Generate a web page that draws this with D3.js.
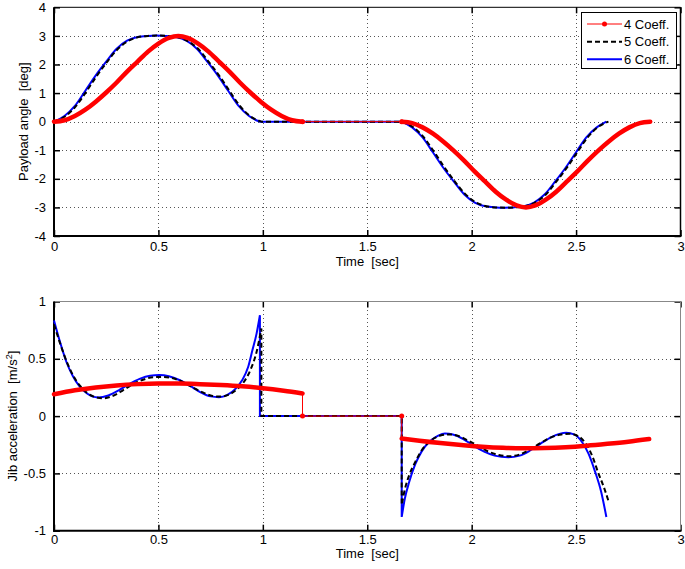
<!DOCTYPE html>
<html><head><meta charset="utf-8">
<script src="https://cdn.jsdelivr.net/npm/d3@7"></script>
<style>
body{margin:0;background:#fff}
text{font-family:"Liberation Sans",Arial,Helvetica,sans-serif;fill:#000}
.pre{white-space:pre}
</style>
</head><body>
<svg id="c" width="685" height="569"></svg>
<script>
// ---------- data ----------
const xTicks = [0, 0.5, 1, 1.5, 2, 2.5, 3];
const xTickLabels = ["0", "0.5", "1", "1.5", "2", "2.5", "3"];
const angleTicks = [-4, -3, -2, -1, 0, 1, 2, 3, 4];
const angleTickLabels = ["-4", "-3", "-2", "-1", "0", "1", "2", "3", "4"];
const accelTicks = [-1, -0.5, 0, 0.5, 1];
const accelTickLabels = ["-1", "-0.5", "0", "0.5", "1"];
const seriesNames = ["4 Coeff.", "5 Coeff.", "6 Coeff."];

// Payload angle [deg] vs time [sec]
const angle4a = [[0,0],[0.05,0.05],[0.1,0.2],[0.15,0.42],[0.2,0.7],[0.25,1.02],[0.3,1.37],[0.35,1.75],[0.4,2.1],[0.45,2.45],[0.5,2.73],[0.55,2.93],[0.595,3.0],[0.64,2.93],[0.69,2.73],[0.74,2.45],[0.79,2.1],[0.84,1.75],[0.89,1.37],[0.94,1.02],[0.99,0.7],[1.04,0.42],[1.09,0.2],[1.14,0.05],[1.19,0]];
const angle4flat = [[1.19,0],[1.665,0]];
const angle4b = [[1.665,0],[1.715,-0.05],[1.765,-0.2],[1.815,-0.42],[1.865,-0.7],[1.915,-1.02],[1.965,-1.37],[2.015,-1.75],[2.065,-2.1],[2.115,-2.45],[2.165,-2.73],[2.215,-2.93],[2.26,-3.0],[2.305,-2.93],[2.355,-2.73],[2.405,-2.45],[2.455,-2.1],[2.505,-1.75],[2.555,-1.37],[2.605,-1.02],[2.655,-0.7],[2.705,-0.42],[2.755,-0.2],[2.805,-0.05],[2.855,0]];

const angle5a = [[0,0],[0.05,0.17],[0.1,0.5],[0.15,1.0],[0.2,1.55],[0.25,2.05],[0.3,2.5],[0.35,2.8],[0.4,2.95],[0.45,3.0],[0.496,3.01],[0.54,3.0],[0.59,2.96],[0.64,2.82],[0.69,2.55],[0.74,2.1],[0.79,1.62],[0.84,1.08],[0.89,0.55],[0.94,0.19],[0.993,0]];
const angle5b = [[1.665,0],[1.715,-0.17],[1.765,-0.5],[1.815,-1.0],[1.865,-1.55],[1.915,-2.05],[1.965,-2.5],[2.015,-2.8],[2.065,-2.95],[2.115,-3.0],[2.161,-3.01],[2.205,-3.0],[2.255,-2.96],[2.305,-2.82],[2.355,-2.55],[2.405,-2.1],[2.455,-1.62],[2.505,-1.08],[2.555,-0.55],[2.605,-0.19],[2.655,0]];

const angle6a = [[0,0],[0.05,0.2],[0.1,0.55],[0.15,1.08],[0.2,1.62],[0.25,2.1],[0.3,2.55],[0.35,2.83],[0.4,2.96],[0.45,3.0],[0.492,3.01],[0.534,3.0],[0.584,2.96],[0.634,2.83],[0.684,2.55],[0.734,2.1],[0.784,1.62],[0.834,1.08],[0.884,0.55],[0.934,0.2],[0.984,0]];
const angle6b = [[1.665,0],[1.715,-0.2],[1.765,-0.55],[1.815,-1.08],[1.865,-1.62],[1.915,-2.1],[1.965,-2.55],[2.015,-2.83],[2.065,-2.96],[2.115,-3.0],[2.157,-3.01],[2.199,-3.0],[2.249,-2.96],[2.299,-2.83],[2.349,-2.55],[2.399,-2.1],[2.449,-1.62],[2.499,-1.08],[2.549,-0.55],[2.599,-0.2],[2.645,0]];

// Jib acceleration [m/s^2] vs time [sec]
const accel4a = [[0,0.19],[0.1,0.225],[0.2,0.25],[0.3,0.268],[0.4,0.279],[0.5,0.284],[0.6,0.284],[0.7,0.279],[0.8,0.271],[0.9,0.26],[1.0,0.244],[1.1,0.222],[1.19,0.198]];
const accel4flat = [[1.19,0],[1.665,0]];
const accel4b = [[1.665,-0.195],[1.75,-0.215],[1.85,-0.235],[1.95,-0.252],[2.05,-0.267],[2.15,-0.277],[2.25,-0.281],[2.35,-0.279],[2.45,-0.272],[2.55,-0.259],[2.65,-0.242],[2.75,-0.223],[2.85,-0.2]];

const accel5a = [[0,0.8],[0.03,0.63],[0.06,0.48],[0.09,0.36],[0.124,0.265],[0.16,0.2],[0.2,0.165],[0.235,0.155],[0.28,0.175],[0.33,0.225],[0.38,0.28],[0.43,0.32],[0.48,0.34],[0.52,0.342],[0.57,0.33],[0.62,0.295],[0.67,0.245],[0.72,0.2],[0.76,0.175],[0.8,0.17],[0.84,0.19],[0.88,0.24],[0.91,0.3],[0.94,0.4],[0.97,0.56],[0.993,0.765]];
const accel5flat = [[0.993,0],[1.665,0]];
const accel5b = [[1.665,-0.775],[1.68,-0.64],[1.7,-0.52],[1.73,-0.4],[1.76,-0.3],[1.8,-0.22],[1.85,-0.17],[1.89,-0.16],[1.93,-0.17],[1.98,-0.21],[2.03,-0.26],[2.08,-0.31],[2.13,-0.34],[2.18,-0.35],[2.23,-0.335],[2.28,-0.29],[2.33,-0.235],[2.38,-0.185],[2.43,-0.16],[2.47,-0.155],[2.51,-0.175],[2.55,-0.25],[2.58,-0.36],[2.605,-0.49],[2.635,-0.63],[2.656,-0.747]];

const accel6a = [[0,0.835],[0.03,0.64],[0.06,0.47],[0.09,0.35],[0.124,0.255],[0.16,0.195],[0.21,0.163],[0.26,0.18],[0.31,0.225],[0.36,0.28],[0.41,0.325],[0.46,0.352],[0.505,0.358],[0.55,0.348],[0.6,0.315],[0.65,0.265],[0.7,0.21],[0.75,0.172],[0.79,0.165],[0.83,0.185],[0.87,0.24],[0.9,0.31],[0.93,0.43],[0.95,0.575],[0.97,0.72],[0.986,0.88]];
const accel6flat = [[0.986,0],[1.665,0]];
const accel6b = [[1.665,-0.88],[1.68,-0.72],[1.7,-0.58],[1.73,-0.42],[1.76,-0.31],[1.8,-0.22],[1.84,-0.17],[1.872,-0.151],[1.91,-0.16],[1.96,-0.2],[2.01,-0.26],[2.06,-0.31],[2.11,-0.345],[2.175,-0.36],[2.23,-0.345],[2.28,-0.3],[2.33,-0.24],[2.38,-0.185],[2.42,-0.155],[2.453,-0.145],[2.49,-0.16],[2.53,-0.23],[2.56,-0.33],[2.59,-0.48],[2.62,-0.66],[2.645,-0.88]];

// ---------- drawing ----------
const svg = d3.select("#c");
const X0 = 54, X1 = 680.5;
const x = d3.scaleLinear().domain([0, 3]).range([X0, X1]);

const panels = [
  { y: d3.scaleLinear().domain([-4, 4]).range([236, 7.3]), ticks: angleTicks, labels: angleTickLabels,
    title: "Payload angle  [deg]", titleX: 28, frame: "#000", xTitleOff: 30, tickPad: 5.5,
    s4: [angle4a, angle4flat, angle4b], s4dense: [angle4a, angle4b], s4dots: angle4flat,
    s5: [angle5a, angle5b], s6: [angle6a, angle6b], legend: true },
  { y: d3.scaleLinear().domain([-1, 1]).range([530.7, 301.5]), ticks: accelTicks, labels: accelTickLabels,
    title: "Jib acceleration  [m/s", titleX: 17, sup: true, frame: "#888", xTitleOff: 27.5, tickPad: 4.5,
    s4: [accel4a, accel4flat, accel4b], s4dense: [accel4a, accel4b], s4dots: accel4flat,
    s5: [accel5a, accel5flat, accel5b], s6: [accel6a, accel6flat, accel6b], legend: false }
];

function piecePath(pieces, y) {
  const line = d3.line().x(d => x(d[0])).y(d => y(d[1])).curve(d3.curveMonotoneX);
  return pieces.map((p, i) => { const s = line(p); return i === 0 ? s : "L" + s.slice(1); }).join("");
}

panels.forEach(P => {
  const y = P.y;
  const [Yb, Yt] = y.range();
  const g = svg.append("g");

  // grid
  const grid = g.append("g").attr("stroke", "#555").attr("stroke-width", 1).attr("stroke-dasharray", "1,3").attr("shape-rendering", "crispEdges");
  grid.selectAll("line.v").data(xTicks.slice(1, -1)).join("line")
    .attr("x1", d => Math.round(x(d)) + 0.5).attr("x2", d => Math.round(x(d)) + 0.5).attr("y1", Yt).attr("y2", Yb);
  grid.selectAll("line.h").data(P.ticks.slice(1, -1)).join("line")
    .attr("x1", X0).attr("x2", X1).attr("y1", d => Math.round(y(d)) + 0.5).attr("y2", d => Math.round(y(d)) + 0.5);

  // axes with inward ticks
  const fmtX = (d, i) => xTickLabels[i];
  const fmtY = (d, i) => P.labels[i];
  const ax = g.append("g").attr("transform", `translate(0,${Yb})`)
    .call(d3.axisBottom(x).tickValues(xTicks).tickSize(-6).tickPadding(P.tickPad).tickFormat(fmtX));
  const ay = g.append("g").attr("transform", `translate(${X0},0)`)
    .call(d3.axisLeft(y).tickValues(P.ticks).tickSize(-6).tickPadding(8).tickFormat(fmtY));
  const at = g.append("g").attr("transform", `translate(0,${Yt})`)
    .call(d3.axisTop(x).tickValues(xTicks).tickSize(-6).tickFormat(""));
  const ar = g.append("g").attr("transform", `translate(${X1},0)`)
    .call(d3.axisRight(y).tickValues(P.ticks).tickSize(-6).tickFormat(""));
  [ax, ay, at, ar].forEach(a => {
    a.select(".domain").remove();
    a.selectAll("line").attr("stroke", "#000").attr("stroke-width", 1.5);
    a.selectAll("text").attr("font-size", 13).attr("font-family", null).attr("fill", "#000");
  });

  // frame
  g.append("line").attr("x1", X0).attr("x2", X1).attr("y1", Yt).attr("y2", Yt).attr("stroke", P.frame).attr("stroke-width", 1);
  g.append("line").attr("x1", X1).attr("x2", X1).attr("y1", Yt).attr("y2", Yb).attr("stroke", P.frame).attr("stroke-width", P.frame === "#000" ? 1.5 : 1);
  g.append("line").attr("x1", X0).attr("x2", X0).attr("y1", Yt).attr("y2", Yb + 1).attr("stroke", "#000").attr("stroke-width", 2);
  g.append("line").attr("x1", X0 - 1).attr("x2", X1 + 1).attr("y1", Yb).attr("y2", Yb).attr("stroke", "#000").attr("stroke-width", 2);

  // axis labels
  g.append("text").attr("class", "pre").attr("x", (X0 + X1) / 2).attr("y", Yb + P.xTitleOff).attr("text-anchor", "middle")
    .attr("font-size", 13).text("Time  [sec]");
  const yt = g.append("text").attr("class", "pre").attr("text-anchor", "middle").attr("font-size", 13)
    .attr("transform", `translate(${P.titleX},${(Yt + Yb) / 2}) rotate(-90)`);
  yt.append("tspan").text(P.title);
  if (P.sup) {
    yt.append("tspan").attr("font-size", 9).attr("dy", -5).text("2");
    yt.append("tspan").attr("dy", 5).text("]");
  }

  // series: 6 Coeff (blue), 5 Coeff (black dashed), 4 Coeff (red with markers)
  g.append("path").attr("d", piecePath(P.s6, y)).attr("fill", "none").attr("stroke", "#0000ff").attr("stroke-width", 2);
  g.append("path").attr("d", piecePath(P.s5, y)).attr("fill", "none").attr("stroke", "#000").attr("stroke-width", 2).attr("stroke-dasharray", "5,3");
  g.append("path").attr("d", piecePath(P.s4, y)).attr("fill", "none").attr("stroke", "#ff0000").attr("stroke-width", 1);
  P.s4dense.forEach(p => {
    g.append("path").attr("d", piecePath([p], y)).attr("fill", "none").attr("stroke", "#ff0000")
      .attr("stroke-width", 4.5).attr("stroke-linecap", "round").attr("stroke-linejoin", "round");
  });
  g.selectAll("circle.dot").data(P.s4dots).join("circle").attr("cx", d => x(d[0])).attr("cy", d => y(d[1])).attr("r", 2.5).attr("fill", "#ff0000");

  // legend
  if (P.legend) {
    const L = g.append("g");
    L.append("rect").attr("x", 581.5).attr("y", 12.5).attr("width", 95).attr("height", 56).attr("fill", "#fff").attr("stroke", "#000").attr("stroke-width", 1);
    const rowsY = [24, 41.7, 59.3];
    const styles = [
      { stroke: "#ff0000", w: 1, dash: null, dot: true },
      { stroke: "#000", w: 2, dash: "5,3", dot: false },
      { stroke: "#0000ff", w: 2, dash: null, dot: false }
    ];
    seriesNames.forEach((name, i) => {
      const s = styles[i];
      L.append("line").attr("x1", 587).attr("x2", 622).attr("y1", rowsY[i]).attr("y2", rowsY[i])
        .attr("stroke", s.stroke).attr("stroke-width", s.w).attr("stroke-dasharray", s.dash);
      if (s.dot) L.append("circle").attr("cx", 604.5).attr("cy", rowsY[i]).attr("r", 2.5).attr("fill", "#ff0000");
      L.append("text").attr("x", 624).attr("y", rowsY[i] + 4.6).attr("font-size", 13).text(name);
    });
  }
});
</script>
</body></html>
